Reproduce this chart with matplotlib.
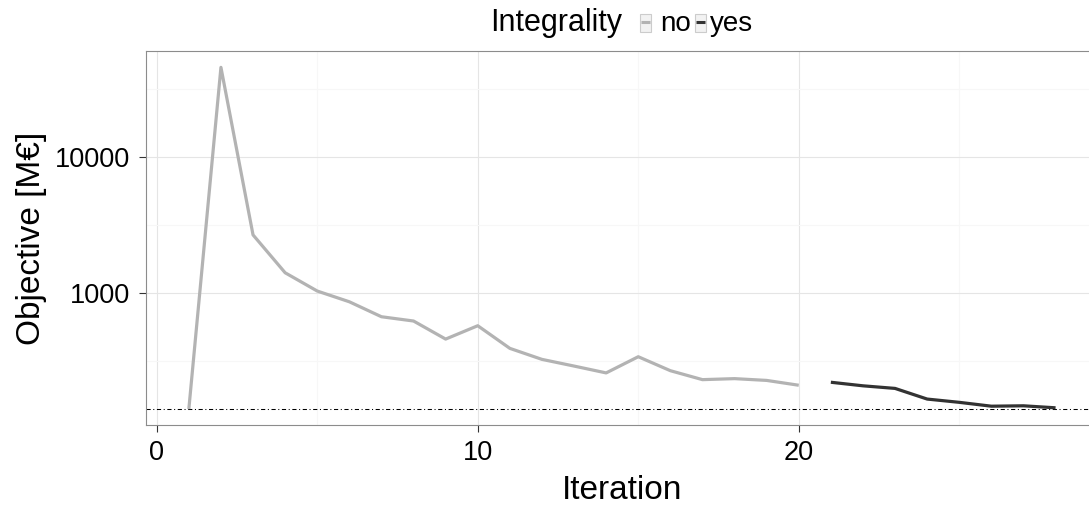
import numpy as np
import matplotlib
matplotlib.use("Agg")
import matplotlib.pyplot as plt
from matplotlib.lines import Line2D
from matplotlib.patches import Rectangle
from matplotlib.ticker import FixedLocator, FuncFormatter

plt.rcParams["font.family"] = ["Liberation Sans", "DejaVu Sans"]

# objective value per iteration, split by integrality of the solve
iter_relaxed = [1, 2, 3, 4, 5, 6, 7, 8, 9, 10, 11, 12, 13, 14, 15, 16, 17, 18, 19, 20]
obj_relaxed = [141, 45900, 2690, 1417, 1040, 867, 673, 626, 461, 578,
               394, 327, 292, 260, 342, 270, 232, 236, 229, 211]
iter_integer = [21, 22, 23, 24, 25, 26, 27, 28]
obj_integer = [222, 209, 200, 167, 158, 148, 149, 144]
lower_bound = 141

series = [("no", iter_relaxed, obj_relaxed, "#b3b3b3"),
          ("yes", iter_integer, obj_integer, "#333333")]

W, H = 1089, 509
fig = plt.figure(figsize=(W / 100, H / 100), dpi=100)


def px(x, y):
    return x / W, 1 - y / H


ax = fig.add_axes([145.5 / W, 1 - 425 / H, 953.4 / W, 374 / H])

for name, xs, ys, col in series:
    ax.plot(xs, ys, color=col, lw=2.3, solid_capstyle="butt", zorder=3)
ax.axhline(lower_bound, color="black", lw=0.75, ls=(0, (4, 2.5, 1, 2.5)), zorder=2)

ax.set_yscale("log")
ax.set_xlim(-0.35, 29.35)
ax.set_ylim(10 ** 2.032, 10 ** 4.782)

ax.xaxis.set_major_locator(FixedLocator([0, 10, 20]))
ax.xaxis.set_minor_locator(FixedLocator([5, 15, 25]))
ax.yaxis.set_major_locator(FixedLocator([1000, 10000]))
ax.yaxis.set_minor_locator(FixedLocator(10 ** np.array([2.5, 3.5, 4.5])))
ax.yaxis.set_major_formatter(FuncFormatter(lambda v, p: f"{v:.0f}"))
ax.yaxis.set_minor_formatter(FuncFormatter(lambda v, p: ""))

ax.grid(which="major", color="#e5e5e5", lw=0.8, zorder=0)
ax.grid(which="minor", color="#f7f7f7", lw=0.8, zorder=0)
ax.set_axisbelow(True)

ax.tick_params(which="major", direction="out", length=5, width=0.8,
               color="#333333", labelsize=19.5, pad=6)
ax.tick_params(which="minor", length=0)
for s in ax.spines.values():
    s.set_color("#8c8c8c")
    s.set_linewidth(0.8)

ax.set_xlabel("Iteration", fontsize=24, labelpad=6)
ax.set_ylabel("Objective [M€]", fontsize=24, labelpad=5.5)

# legend on top: title, then boxed keys with labels
fig.text(*px(490, 31), "Integrality", fontsize=22, ha="left", va="baseline")
keys = [(640, 660, "no", "#b3b3b3"), (695, 710, "yes", "#333333")]
for kx, tx, label, col in keys:
    bx, by = px(kx, 32)
    fig.add_artist(Rectangle((bx, by), 11 / W, 18 / H, transform=fig.transFigure,
                             facecolor="#f2f2f2", edgecolor="#cccccc", lw=0.8))
    lx0, ly = px(kx + 1, 22)
    lx1, _ = px(kx + 10, 22)
    fig.add_artist(Line2D([lx0, lx1], [ly, ly], transform=fig.transFigure,
                          color=col, lw=2.2, solid_capstyle="butt"))
    fig.text(*px(tx, 31), label, fontsize=20, ha="left", va="baseline")

fig.savefig("out.png", dpi=100)
